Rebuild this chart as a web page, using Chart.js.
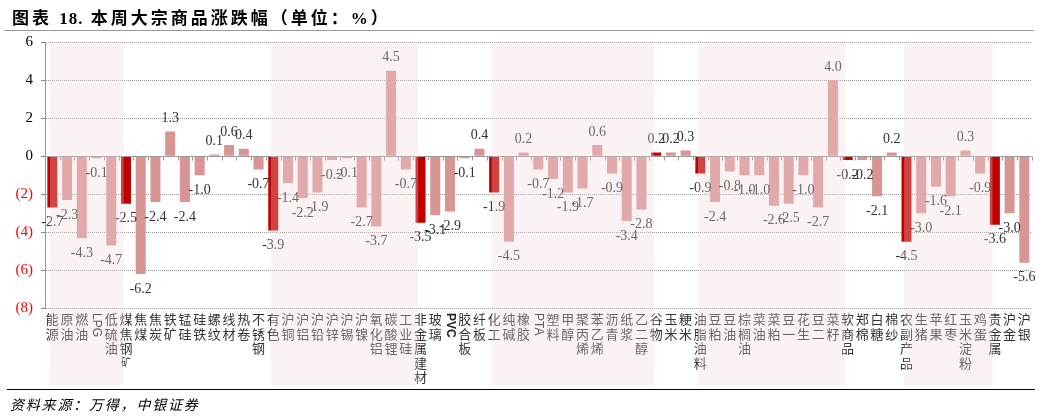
<!DOCTYPE html>
<html><head><meta charset="utf-8">
<script src="https://cdn.jsdelivr.net/npm/chart.js@4.4.1/dist/chart.umd.min.js"></script>
<style>
html,body{margin:0;padding:0;background:#fff;}
#wrap{position:relative;width:1042px;height:417px;overflow:hidden;background:#fff;}
#c{position:absolute;left:0;top:0;}
#title{position:absolute;left:12px;top:4px;font:bold 17px "Liberation Serif","Noto Sans CJK SC";letter-spacing:3px;color:#000;white-space:nowrap;}
#title .n{letter-spacing:1px;}
#tline{position:absolute;left:4px;top:30px;width:1030px;height:0;border-top:1px solid #999;}
#bline{position:absolute;left:7px;top:389px;width:1028px;height:0;border-top:1.5px solid #000;}
#src{position:absolute;left:10px;top:394px;font:italic 14px "Noto Sans CJK SC";letter-spacing:1.8px;color:#000;white-space:nowrap;}
</style></head>
<body><div id="wrap">
<canvas id="c" width="1042" height="417"></canvas>
<div id="title">图表 <span class="n">18.</span> 本周大宗商品涨跌幅（单位：%）</div>
<div id="tline"></div>
<div id="bline"></div>
<div id="src">资料来源：万得，中银证券</div>
</div>
<script>
const categories = ['能源','原油','燃油','LPG','低硫油','煤焦钢矿','焦煤','焦炭','铁矿','锰硅','硅铁','螺纹','线材','热卷','不锈钢',
 '有色','沪铜','沪铝','沪铅','沪锌','沪锡','沪镍','氧化铝','碳酸锂','工业硅','非金属建材','玻璃','PVC','胶合板','纤板',
 '化工','纯碱','橡胶','PTA','塑料','甲醇','聚丙烯','苯乙烯','沥青','纸浆','乙二醇','谷物','玉米','粳米',
 '油脂油料','豆粕','豆油','棕榈油','菜油','菜粕','豆一','花生','豆二','菜籽','软商品','郑棉','白糖','棉纱',
 '农副产品','生猪','苹果','红枣','玉米淀粉','鸡蛋','贵金属','沪金','沪银'];
const values = [-2.7,-2.3,-4.3,-0.1,-4.7,-2.5,-6.2,-2.4,1.3,-2.4,-1.0,0.1,0.6,0.4,-0.7,
 -3.9,-1.4,-2.2,-1.9,-0.2,-0.1,-2.7,-3.7,4.5,-0.7,-3.5,-3.1,-2.9,-0.1,0.4,
 -1.9,-4.5,0.2,-0.7,-1.2,-1.9,-1.7,0.6,-0.9,-3.4,-2.8,0.2,0.2,0.3,
 -0.9,-2.4,-0.8,-1.0,-1.0,-2.6,-2.5,-1.0,-2.7,4.0,-0.2,-0.2,-2.1,0.2,
 -4.5,-3.0,-1.6,-2.1,0.3,-0.9,-3.6,-3.0,-5.6];
const groupHeads = ['能源','煤焦钢矿','有色','非金属建材','化工','谷物','油脂油料','软商品','农副产品','贵金属'];
const shadedGroups = ['能源','有色','化工','油脂油料','农副产品'];
const yMin = -8, yMax = 6, yStep = 2;

const barColors = categories.map(c => groupHeads.includes(c) ? '#C00000' : '#D99494');

const decor = {
  id: 'decor',
  afterDatasetsDraw(chart) {
    const {ctx, chartArea: a, scales: {x, y}} = chart;
    const w = x.getPixelForValue(1) - x.getPixelForValue(0);
    const y0 = Math.round(y.getPixelForValue(0)) + 0.5;
    ctx.save();
    ctx.strokeStyle = '#999'; ctx.lineWidth = 1;
    ctx.beginPath();
    ctx.moveTo(a.left, y0); ctx.lineTo(a.right, y0);
    for (let i = 0; i <= categories.length; i++) {
      const bx = Math.round(x.getPixelForValue(0) - w / 2 + i * w) + 0.5;
      ctx.moveTo(bx, y0); ctx.lineTo(bx, y0 + 4);
    }
    ctx.stroke();
    const meta = chart.getDatasetMeta(0);
    ctx.font = '14px "Liberation Serif"';
    ctx.fillStyle = '#333';
    ctx.textAlign = 'center'; ctx.textBaseline = 'middle';
    meta.data.forEach((bar, i) => {
      const v = values[i];
      const yy = v >= 0 ? bar.y - 13 : bar.y + 15;
      ctx.fillText(v.toFixed(1), bar.x, yy);
    });
    const top = 313;
    categories.forEach((lab, i) => {
      const cx = x.getPixelForValue(i);
      if (/^[A-Za-z]+$/.test(lab)) {
        ctx.save();
        ctx.translate(cx, top);
        ctx.rotate(Math.PI / 2);
        ctx.font = (lab === 'PVC' ? 'bold ' : '') + '12px "Liberation Sans"';
        ctx.textAlign = 'left'; ctx.textBaseline = 'middle';
        ctx.fillStyle = '#222';
        ctx.fillText(lab, 0, 0);
        ctx.restore();
      } else {
        ctx.textAlign = 'center'; ctx.textBaseline = 'top';
        ctx.fillStyle = '#333';
        [...lab].forEach((ch, j) => {
          const small = lab === '煤焦钢矿' && j === 3;
          ctx.font = (small ? '10px' : '13px') + ' "Noto Sans CJK SC"';
          ctx.fillText(ch, cx, top + j * 14.5 + (small ? 1 : 0));
        });
      }
    });
    ctx.restore();
  },
  afterDraw(chart) {
    const {ctx, chartArea: a, scales: {x}} = chart;
    const w = x.getPixelForValue(1) - x.getPixelForValue(0);
    const heads = categories.map((c, i) => groupHeads.includes(c) ? i : -1).filter(i => i >= 0);
    ctx.save();
    ctx.fillStyle = 'rgba(242,216,216,0.31)';
    heads.forEach((s, k) => {
      if (!shadedGroups.includes(categories[s])) return;
      const e = k + 1 < heads.length ? heads[k + 1] : categories.length;
      const x0 = x.getPixelForValue(s) - w / 2 + 5;
      const x1 = x.getPixelForValue(e) - w / 2 + 5;
      ctx.fillRect(x0, a.top, x1 - x0, 385 - a.top);
    });
    ctx.restore();
  }
};

new Chart(document.getElementById('c'), {
  type: 'bar',
  data: {
    labels: categories,
    datasets: [{
      data: values,
      backgroundColor: barColors,
      borderWidth: 0,
      categoryPercentage: 1,
      barPercentage: 0.68
    }]
  },
  options: {
    responsive: false,
    animation: false,
    devicePixelRatio: 1,
    layout: {padding: {top: 42.3, right: 10.3, left: 0, bottom: 0}},
    plugins: {legend: {display: false}, tooltip: {enabled: false}},
    scales: {
      x: {
        ticks: {display: false},
        grid: {display: false},
        border: {display: false},
        afterFit: s => { s.height = 417 - 308.3; }
      },
      y: {
        min: yMin, max: yMax,
        ticks: {
          stepSize: yStep,
          padding: 8,
          font: {family: '"Liberation Serif"', size: 15},
          color: c => c.tick.value < 0 ? '#FF0000' : '#000',
          callback: v => v < 0 ? '(' + (-v) + ')' : String(v)
        },
        grid: {color: '#999', lineWidth: 1, tickLength: 4, tickColor: '#888', drawTicks: true},
        border: {display: true, color: '#999', width: 1, dash: [1, 1]},
        afterFit: s => { s.width = 45; }
      }
    }
  },
  plugins: [decor]
});
</script>
</body></html>
